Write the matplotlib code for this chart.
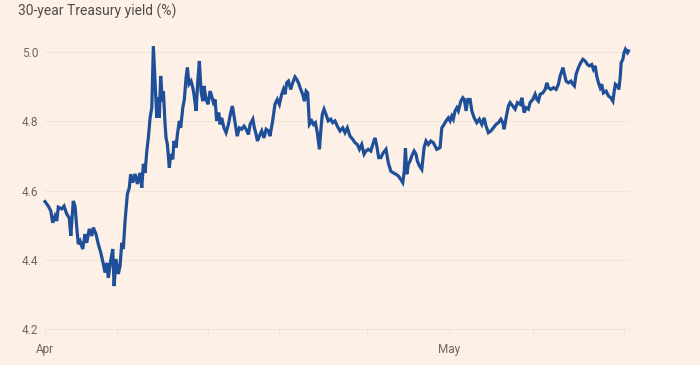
import matplotlib
matplotlib.use("Agg")
import matplotlib.pyplot as plt

# 30-year Treasury yield (x = trading days since 1 Apr)
days = [
    0.00, 0.17, 0.30, 0.40, 0.52, 0.61, 0.69, 0.87, 0.99, 1.13, 1.26, 1.34, 1.47, 1.56, 1.65, 1.73,
    1.82, 1.96, 2.08, 2.17, 2.30, 2.43, 2.51, 2.65, 2.77, 2.90, 3.03, 3.12, 3.21, 3.29, 3.41, 3.52,
    3.59, 3.69, 3.81, 3.90, 3.99, 4.07, 4.16, 4.28, 4.38, 4.45, 4.56, 4.68, 4.80, 4.94, 5.03, 5.11,
    5.20, 5.29, 5.37, 5.46, 5.55, 5.63, 5.72, 5.81, 5.89, 5.94, 6.01, 6.10, 6.15, 6.24, 6.29, 6.36,
    6.46, 6.53, 6.64, 6.70, 6.81, 6.88, 6.98, 7.05, 7.16, 7.24, 7.33, 7.40, 7.48, 7.59, 7.68, 7.74,
    7.85, 7.94, 8.02, 8.11, 8.20, 8.26, 8.37, 8.47, 8.58, 8.66, 8.75, 8.84, 8.92, 9.03, 9.10, 9.18,
    9.30, 9.41, 9.53, 9.65, 9.74, 9.82, 9.93, 9.99, 10.10, 10.22, 10.34, 10.45, 10.57, 10.66, 10.80, 10.88,
    10.97, 11.04, 11.14, 11.26, 11.38, 11.49, 11.61, 11.69, 11.78, 11.83, 11.95, 12.07, 12.18, 12.30, 12.39, 12.47,
    12.56, 12.65, 12.77, 12.87, 12.99, 13.08, 13.17, 13.29, 13.39, 13.48, 13.57, 13.65, 13.74, 13.86, 13.95, 14.05,
    14.15, 14.26, 14.33, 14.41, 14.50, 14.60, 14.72, 14.85, 14.95, 15.07, 15.19, 15.33, 15.47, 15.59, 15.71, 15.85,
    15.99, 16.11, 16.23, 16.34, 16.46, 16.58, 16.68, 16.80, 16.93, 17.06, 17.15, 17.24, 17.34, 17.45, 17.58, 17.72,
    17.84, 17.97, 18.10, 18.24, 18.36, 18.49, 18.59, 18.67, 18.73, 18.80, 18.88, 18.97, 19.06, 19.18, 19.28, 19.35,
    19.46, 19.58, 19.70, 19.80, 19.92, 20.05, 20.18, 20.36, 20.53, 20.62, 20.74, 20.84, 20.96, 21.05, 21.14, 21.22,
    21.31, 21.40, 21.48, 21.61, 21.71, 21.79, 21.88, 21.97, 22.09, 22.18, 22.30, 22.44, 22.57, 22.70, 22.82, 22.92,
    23.04, 23.17, 23.30, 23.44, 23.56, 23.69, 23.79, 23.86, 23.96, 24.08, 24.17, 24.31, 24.43, 24.55, 24.69, 24.78,
    24.90, 25.00, 25.12, 25.21, 25.35, 25.47, 25.56, 25.64, 25.73, 25.87, 25.99, 26.08, 26.16, 26.28, 26.42, 26.56,
    26.68, 26.77, 26.86, 26.91, 26.99, 27.08, 27.20, 27.33, 27.43, 27.51, 27.60, 27.72, 27.84, 27.95, 28.07, 28.19,
    28.29, 28.41, 28.50, 28.59, 28.67, 28.76, 28.85, 28.93, 29.02, 29.16, 29.28, 29.40, 29.51, 29.58, 29.64, 29.75,
    29.82, 29.89, 29.94, 30.03, 30.09, 30.16, 30.27, 30.32,
]
yields = [
    4.568, 4.555, 4.541, 4.507, 4.526, 4.512, 4.552, 4.547, 4.555, 4.532, 4.521, 4.469, 4.570, 4.555, 4.493, 4.445,
    4.454, 4.431, 4.474, 4.449, 4.489, 4.469, 4.493, 4.474, 4.445, 4.420, 4.388, 4.363, 4.391, 4.348, 4.396, 4.431,
    4.324, 4.402, 4.359, 4.382, 4.449, 4.431, 4.512, 4.590, 4.608, 4.647, 4.623, 4.648, 4.619, 4.651, 4.608, 4.677,
    4.651, 4.714, 4.752, 4.810, 4.839, 5.017, 4.916, 4.810, 4.868, 4.810, 4.931, 4.858, 4.887, 4.791, 4.752, 4.733,
    4.666, 4.705, 4.690, 4.743, 4.724, 4.762, 4.801, 4.781, 4.839, 4.863, 4.926, 4.955, 4.907, 4.916, 4.897, 4.878,
    4.830, 4.916, 4.974, 4.887, 4.858, 4.902, 4.863, 4.849, 4.887, 4.873, 4.854, 4.863, 4.801, 4.825, 4.791, 4.810,
    4.781, 4.767, 4.791, 4.825, 4.844, 4.815, 4.777, 4.757, 4.781, 4.777, 4.786, 4.777, 4.762, 4.791, 4.806, 4.781,
    4.762, 4.743, 4.757, 4.772, 4.752, 4.777, 4.772, 4.757, 4.786, 4.801, 4.849, 4.863, 4.849, 4.878, 4.892, 4.878,
    4.911, 4.916, 4.892, 4.911, 4.928, 4.921, 4.911, 4.892, 4.878, 4.858, 4.887, 4.882, 4.791, 4.801, 4.791, 4.796,
    4.767, 4.719, 4.772, 4.820, 4.835, 4.820, 4.801, 4.806, 4.796, 4.801, 4.786, 4.772, 4.781, 4.767, 4.781, 4.757,
    4.748, 4.738, 4.733, 4.719, 4.733, 4.705, 4.714, 4.719, 4.714, 4.738, 4.752, 4.729, 4.695, 4.695, 4.709, 4.719,
    4.680, 4.656, 4.651, 4.647, 4.642, 4.632, 4.623, 4.656, 4.722, 4.647, 4.676, 4.685, 4.700, 4.714, 4.705, 4.685,
    4.671, 4.661, 4.724, 4.743, 4.733, 4.743, 4.738, 4.719, 4.724, 4.781, 4.791, 4.801, 4.810, 4.801, 4.815, 4.806,
    4.830, 4.839, 4.830, 4.858, 4.868, 4.863, 4.830, 4.863, 4.863, 4.830, 4.810, 4.796, 4.806, 4.791, 4.810, 4.786,
    4.767, 4.772, 4.781, 4.791, 4.796, 4.806, 4.796, 4.777, 4.810, 4.844, 4.854, 4.844, 4.835, 4.854, 4.849, 4.868,
    4.825, 4.839, 4.835, 4.854, 4.863, 4.878, 4.863, 4.858, 4.878, 4.882, 4.892, 4.911, 4.897, 4.892, 4.897, 4.892,
    4.907, 4.931, 4.945, 4.955, 4.936, 4.916, 4.911, 4.916, 4.907, 4.902, 4.936, 4.955, 4.969, 4.979, 4.974, 4.964,
    4.960, 4.964, 4.950, 4.960, 4.931, 4.911, 4.897, 4.907, 4.882, 4.887, 4.873, 4.868, 4.858, 4.887, 4.907, 4.902,
    4.892, 4.926, 4.969, 4.979, 4.998, 5.008, 4.998, 5.003,
]

# week-start ticks (trading-day positions) and their labels
tick_days = [0, 3.74, 8.47, 12.16, 16.74, 21.0, 25.36, 30.09]
tick_labels = ["Apr", "", "", "", "", "May", "", ""]
y_ticks = [4.2, 4.4, 4.6, 4.8, 5.0]

bg = "#FDF0E6"
grid_col = "#F1E4D9"
text_col = "#6E6762"
line_col = "#1F4F98"

plt.rcParams["font.family"] = ["Roboto", "DejaVu Sans"]

fig = plt.figure(figsize=(7, 3.65), dpi=100, facecolor=bg)
ax = fig.add_axes([0.0643, 0.0986, 0.8357, 0.8063])
ax.set_facecolor(bg)

ax.plot(days, yields, color=line_col, lw=2.3, solid_joinstyle="miter", clip_on=False, zorder=3)

ax.set_xlim(0, 30.4)
ax.set_ylim(4.2, 5.05)
ax.set_yticks(y_ticks)
ax.set_yticklabels([f"{v:.1f}" for v in y_ticks])
ax.set_xticks(tick_days)
ax.set_xticklabels(tick_labels)

for s in ["top", "right", "left"]:
    ax.spines[s].set_visible(False)
ax.spines["bottom"].set_color(grid_col)
ax.spines["bottom"].set_linewidth(0.8)

ax.grid(axis="y", color=grid_col, lw=0.8)
ax.set_axisbelow(True)
ax.tick_params(axis="y", length=0, pad=5, labelsize=8.5, labelcolor=text_col)
ax.tick_params(axis="x", length=5, width=0.8, color=grid_col, pad=5, labelsize=8.5, labelcolor=text_col)

fig.text(0.025, 0.958, "30-year Treasury yield (%)", fontsize=10, color="#524C48", va="baseline", ha="left")

fig.savefig("out.png", dpi=100, facecolor=bg)
